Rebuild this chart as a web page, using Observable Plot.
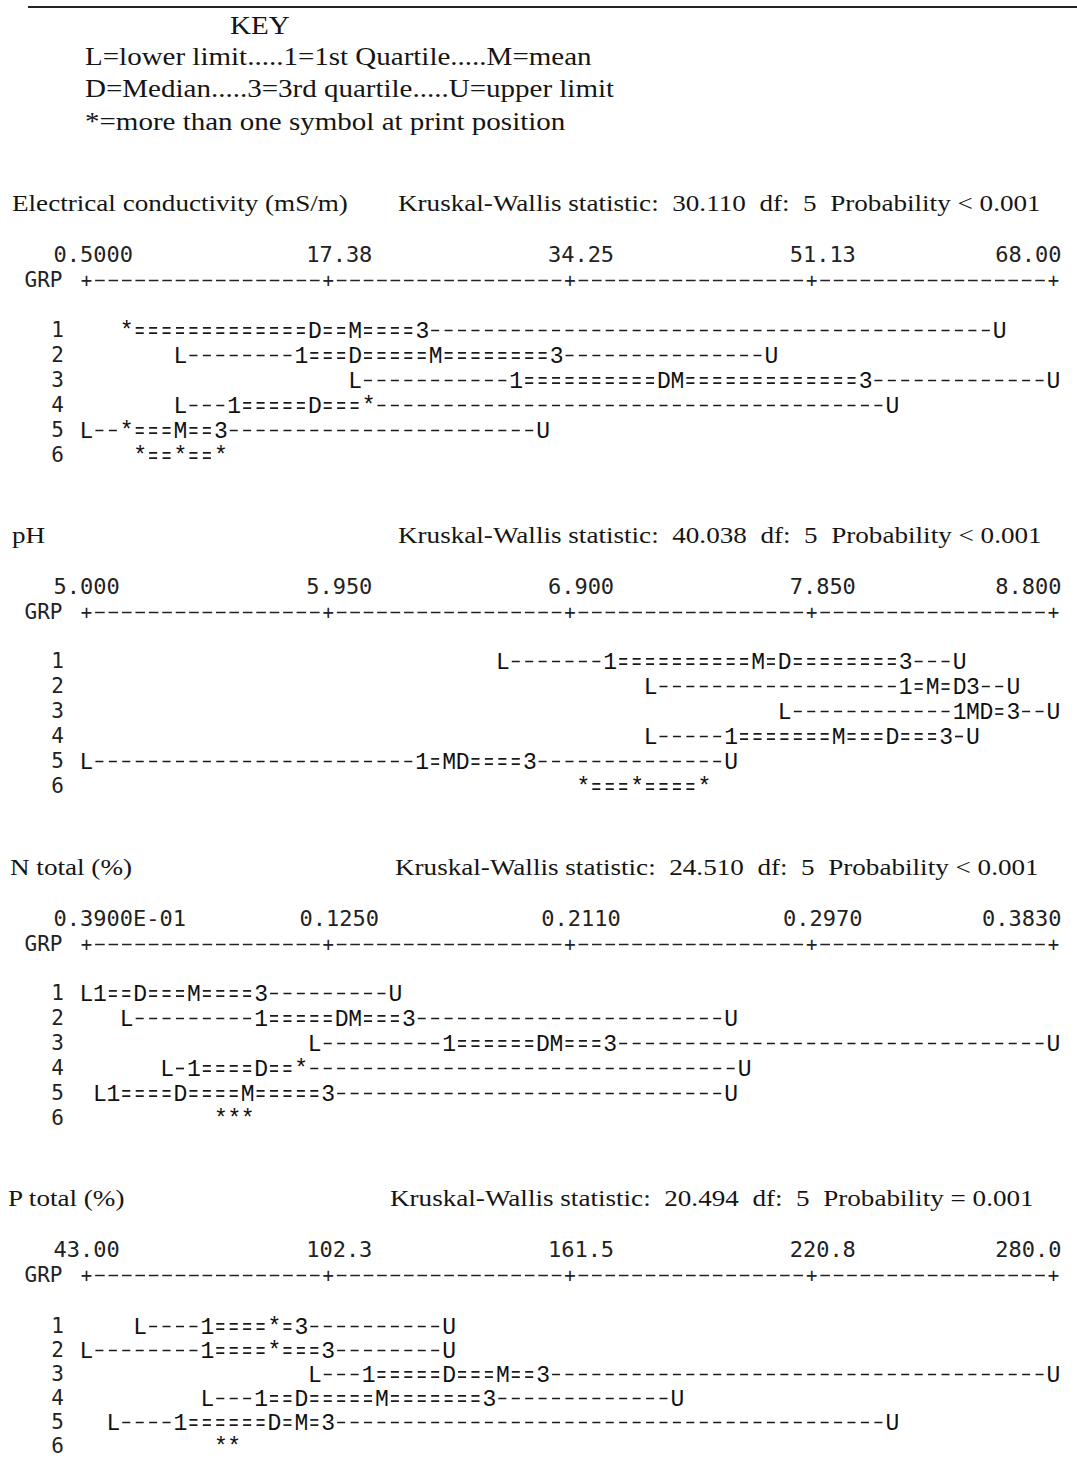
<!DOCTYPE html>
<html><head><meta charset="utf-8">
<script src="https://cdn.jsdelivr.net/npm/d3@7"></script>
<script src="https://cdn.jsdelivr.net/npm/@observablehq/plot@0.6"></script>
<style>
body{margin:0;background:#fff;}
#page{position:relative;width:1077px;height:1460px;overflow:hidden;font-family:"Liberation Serif","Times New Roman",serif;color:#151515;}
.rule{position:absolute;left:28px;right:0;top:6px;border-top:2px solid #222;}
.t{position:absolute;white-space:pre;font-size:24px;line-height:1;transform-origin:0 50%;}
.key{font-size:25px;transform:scaleX(1.16);}
.ttl{transform:scaleX(1.13);}
.panel{position:absolute;left:0;width:1077px;}
</style></head><body><div id="page"><div class="rule"></div></div>
<script>
// ---------------- data ----------------
const groups = [1, 2, 3, 4, 5, 6];

// Electrical conductivity (mS/m)
const ecTicks = [0.5, 17.375, 34.25, 51.125, 68.0];
const ecTickLabels = ["0.5000", "17.38", "34.25", "51.13", "68.00"];
const ecL  = [3.31, 7.06, 19.25, 7.06, 0.50, 4.25];
const ecQ1 = [3.31, 15.50, 30.50, 10.81, 3.31, 4.25];
const ecD  = [16.44, 19.25, 40.81, 16.44, 3.31, 7.06];
const ecM  = [19.25, 24.88, 41.75, 20.19, 7.06, 7.06];
const ecQ3 = [23.94, 33.31, 54.88, 20.19, 9.88, 9.88];
const ecU  = [64.25, 48.31, 68.00, 56.75, 32.38, 9.88];

// pH
const phTicks = [5.0, 5.95, 6.9, 7.85, 8.8];
const phTickLabels = ["5.000", "5.950", "6.900", "7.850", "8.800"];
const phL  = [6.636, 7.217, 7.744, 7.217, 5.000, 6.953];
const phQ1 = [7.058, 8.219, 8.431, 7.533, 6.319, 6.953];
const phD  = [7.744, 8.431, 8.536, 8.167, 6.478, 7.164];
const phM  = [7.639, 8.325, 8.483, 7.956, 6.425, 7.164];
const phQ3 = [8.219, 8.483, 8.642, 8.378, 6.742, 7.428];
const phU  = [8.431, 8.642, 8.800, 8.483, 7.533, 7.428];

// N total (%)
const nTicks = [0.039, 0.125, 0.211, 0.297, 0.383];
const nTickLabels = ["0.3900E-01", "0.1250", "0.2110", "0.2970", "0.3830"];
const nL  = [0.0390, 0.0533, 0.1202, 0.0677, 0.0438, 0.0868];
const nQ1 = [0.0438, 0.1011, 0.1680, 0.0772, 0.0486, 0.0868];
const nD  = [0.0581, 0.1298, 0.2014, 0.1011, 0.0724, 0.0916];
const nM  = [0.0772, 0.1346, 0.2062, 0.1154, 0.0963, 0.0916];
const nQ3 = [0.1011, 0.1537, 0.2253, 0.1154, 0.1250, 0.0963];
const nU  = [0.1489, 0.2683, 0.3830, 0.2731, 0.2683, 0.0963];

// P total (%)
const pTicks = [43.0, 102.25, 161.5, 220.75, 280.0];
const pTickLabels = ["43.00", "102.3", "161.5", "220.8", "280.0"];
const pL  = [56.17, 43.00, 98.96, 72.63, 49.58, 75.92];
const pQ1 = [72.63, 72.63, 112.13, 85.79, 66.04, 75.92];
const pD  = [89.08, 89.08, 131.88, 95.67, 89.08, 75.92];
const pM  = [89.08, 89.08, 145.04, 115.42, 95.67, 79.21];
const pQ3 = [95.67, 102.25, 154.92, 141.75, 102.25, 79.21];
const pU  = [131.88, 131.88, 280.00, 187.83, 240.50, 79.21];

const titles = ["Electrical conductivity (mS/m)", "pH", "N total (%)", "P total (%)"];
const kwTexts = [
  "Kruskal-Wallis statistic:  30.110  df:  5  Probability < 0.001",
  "Kruskal-Wallis statistic:  40.038  df:  5  Probability < 0.001",
  "Kruskal-Wallis statistic:  24.510  df:  5  Probability < 0.001",
  "Kruskal-Wallis statistic:  20.494  df:  5  Probability = 0.001"
];

// ---------------- layout ----------------
const panels = [
  {ticks: ecTicks, labels: ecTickLabels, L: ecL, Q1: ecQ1, D: ecD, M: ecM, Q3: ecQ3, U: ecU},
  {ticks: phTicks, labels: phTickLabels, L: phL, Q1: phQ1, D: phD, M: phM, Q3: phQ3, U: phU},
  {ticks: nTicks, labels: nTickLabels, L: nL, Q1: nQ1, D: nD, M: nM, Q3: nQ3, U: nU},
  {ticks: pTicks, labels: pTickLabels, L: pL, Q1: pQ1, D: pD, M: pM, Q3: pQ3, U: pU}
];
const panelTop = [223, 555, 887, 1218];
const titleLeft = [12, 12, 10, 8];
const kwLeft = [398, 398, 395, 390];
const rowRange = [[106, 232], [106, 231], [106, 231], [107, 229]];
const panelHeight = [250, 250, 250, 242];

const page = document.getElementById("page");
function addText(txt, left, top, cls) {
  const d = document.createElement("div");
  d.className = "t " + (cls || "");
  d.textContent = txt;
  d.style.left = left + "px"; d.style.top = top + "px";
  page.appendChild(d);
}
addText("KEY", 230, 13, "key");
addText("L=lower limit.....1=1st Quartile.....M=mean", 85, 44, "key");
addText("D=Median.....3=3rd quartile.....U=upper limit", 85, 76, "key");
addText("*=more than one symbol at print position", 85, 109, "key");

const COLS = 72;          // print positions across the axis
const PITCH = 967 / COLS; // px per print position
const HALF = PITCH / 2;
const dash = "8," + (PITCH - 8).toFixed(2);
const segOffset = (PITCH - (HALF - 4)).toFixed(2); // dashes centred on print positions
const mono = "Liberation Mono";
const sans = "DejaVu Sans Mono";

panels.forEach((p, i) => {
  addText(titles[i], titleLeft[i], panelTop[i] - 32, "ttl");
  addText(kwTexts[i], kwLeft[i], panelTop[i] - 32, "ttl");
  const min = p.ticks[0], max = p.ticks[p.ticks.length - 1];
  const step = (max - min) / COLS;
  const col = v => Math.round((v - min) / step);
  const rows = groups.map((g, k) => ({g, L: p.L[k], Q1: p.Q1[k], D: p.D[k], M: p.M[k], Q3: p.Q3[k], U: p.U[k]}));
  const syms = [], segs = [];
  for (const r of rows) {
    const parts = [["L", r.L], ["1", r.Q1], ["D", r.D], ["M", r.M], ["3", r.Q3], ["U", r.U]];
    const byCol = d3.group(parts, q => col(q[1]));
    for (const [, qs] of byCol) syms.push({g: r.g, x: qs[0][1], ch: qs.length > 1 ? "*" : qs[0][0]});
    // pieces of line between neighbouring printed symbols
    const cs = Array.from(byCol.keys()).sort((a, b) => a - b);
    for (let k = 0; k < cs.length - 1; k++) {
      const a = cs[k], b = cs[k + 1];
      if (b - a <= 1) continue;
      segs.push({g: r.g, x1: min + a * step, x2: min + b * step, box: a >= col(r.Q1) && b <= col(r.Q3)});
    }
  }
  const lineOpts = {y: "g", x1: "x1", x2: "x2", stroke: "#1a1a1a", strokeWidth: 1.7, strokeDasharray: dash, strokeDashoffset: segOffset, insetLeft: HALF, insetRight: HALF};
  const last = p.ticks.length - 1;
  const svg = Plot.plot({
    width: 1077, height: panelHeight[i],
    marginTop: 57, marginLeft: 86, marginRight: 24, marginBottom: 8,
    x: {domain: [min, max], axis: null},
    y: {type: "point", domain: groups, range: rowRange[i], padding: 0, axis: null},
    marks: [
      Plot.frame({anchor: "top", stroke: "#222", strokeWidth: 1.6, strokeDasharray: dash, strokeDashoffset: 4}),
      Plot.text(p.ticks, {x: d => d, frameAnchor: "top", lineAnchor: "middle", text: () => "+", fontFamily: sans, fontSize: 19, fill: "#222", stroke: "white", strokeWidth: 3, paintOrder: "stroke"}),
      Plot.text([p.labels[0]], {x: () => p.ticks[0], frameAnchor: "top", lineAnchor: "middle", dy: -26, dx: -33, textAnchor: "start", text: d => d, fontFamily: sans, fontSize: 22, fill: "#222"}),
      Plot.text(p.ticks.slice(1, last), {x: d => d, frameAnchor: "top", lineAnchor: "middle", dy: -26, dx: 11, textAnchor: "middle", text: (d, j) => p.labels[j + 1], fontFamily: sans, fontSize: 22, fill: "#222"}),
      Plot.text([p.labels[last]], {x: () => p.ticks[last], frameAnchor: "top", lineAnchor: "middle", dy: -26, dx: 8, textAnchor: "end", text: d => d, fontFamily: sans, fontSize: 22, fill: "#222"}),
      Plot.text(["GRP"], {x: () => min, frameAnchor: "top", lineAnchor: "middle", dx: -62, textAnchor: "start", text: d => d, fontFamily: sans, fontSize: 21, fill: "#222"}),
      Plot.text(groups, {x: () => min, y: d => d, dx: -29, text: d => String(d), fontFamily: sans, fontSize: 21, fill: "#222"}),
      Plot.ruleY(segs, {...lineOpts, filter: d => !d.box}),
      Plot.ruleY(segs, {...lineOpts, dy: -2.6, filter: d => d.box}),
      Plot.ruleY(segs, {...lineOpts, dy: 2.6, filter: d => d.box}),
      Plot.text(syms, {x: "x", y: "g", text: "ch", fontFamily: mono, fontSize: 23, fill: "#111"})
    ]
  });
  const holder = document.createElement("div");
  holder.className = "panel";
  holder.style.top = panelTop[i] + "px";
  holder.style.height = panelHeight[i] + "px";
  holder.appendChild(svg);
  page.appendChild(holder);
});
</script>
</body></html>
